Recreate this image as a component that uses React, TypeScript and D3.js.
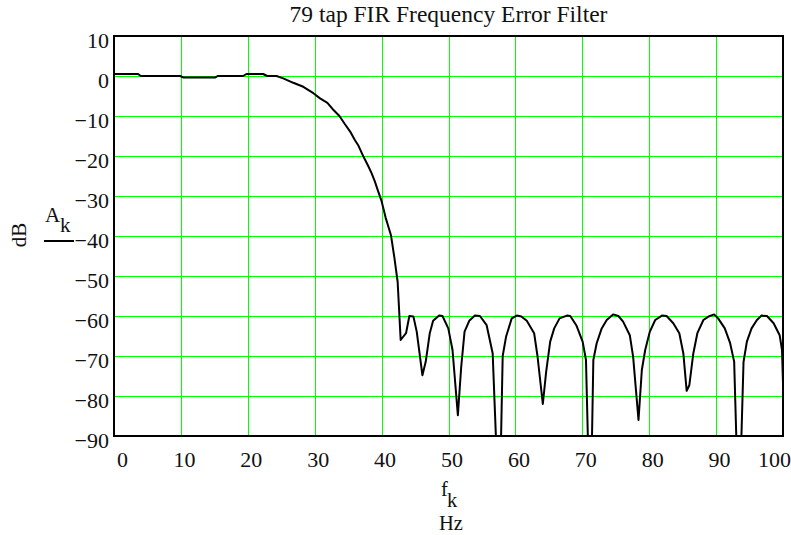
import React from "react";
import * as d3 from "d3";

// Frequency (Hz) of each plotted vertex
const freqHz = [
  0, 3.6, 4.0, 9.9, 10.4, 15.1, 15.5, 19.3, 19.8, 22.3, 22.9, 24.3, 25.3, 26.8, 28.3, 29.8,
  30.8, 31.9, 32.7, 33.7, 34.5, 35.3, 36.0, 36.5, 37.3, 38.0, 38.5, 39.0, 39.5, 40.0, 40.6,
  41.4, 41.9, 42.4, 42.85, 43.65, 44.15, 44.75, 45.25, 46.1, 46.6, 47.2, 47.7, 48.6, 49.1,
  49.97, 50.6, 51.4, 51.9, 52.4, 53.1, 53.95, 54.7, 55.7, 56.6, 57.2, 57.8, 58.1, 58.6,
  59.45, 60.2, 60.9, 61.7, 62.8, 63.3, 64.1, 64.6, 65.2, 65.8, 66.6, 67.7, 68.2, 69.1,
  70.05, 70.55, 70.9, 71.4, 71.65, 72.15, 72.9, 73.65, 74.6, 75.4, 76.1, 77.1, 77.6, 78.4,
  78.9, 79.4, 80.1, 80.9, 81.9, 82.6, 83.6, 84.5, 85.1, 85.6, 86.0, 86.6, 87.2, 88.1, 88.8,
  89.7, 90.3, 91.3, 92.1, 92.7, 93.1, 93.7, 94.1, 94.6, 95.3, 96.1, 96.8, 97.6, 98.6, 99.5,
  99.85, 100.0,
];

// Magnitude A_k (dB) at each vertex
const gainDb = [
  0.5, 0.5, 0.0, 0.0, -0.4, -0.4, 0.0, 0.0, 0.5, 0.5, 0.0, 0.0, -0.6, -1.7, -2.7, -4.3,
  -5.6, -6.7, -8.3, -10.0, -12.0, -13.9, -16.0, -17.3, -20.2, -22.5, -24.3, -26.4, -28.9, -31.3, -35.4,
  -39.8, -45.3, -51.5, -66.0, -64.3, -60.0, -60.1, -63.9, -74.8, -71.4, -64.3, -61.2, -59.9, -60.0,
  -63.1, -68.5, -84.8, -72.7, -63.9, -61.2, -59.9, -60.0, -62.3, -69.3, -95, -95, -70.0, -65.2,
  -60.6, -59.9, -60.1, -61.2, -64.3, -70.0, -82.0, -73.9, -66.4, -63.1, -60.6, -59.9, -60.0, -62.3,
  -66.4, -71.0, -95, -95, -71.0, -66.8, -63.1, -61.0, -59.6, -60.0, -61.4, -64.8, -70.2, -86.0,
  -73.5, -68.5, -63.9, -61.0, -59.9, -60.0, -61.8, -64.3, -69.3, -78.7, -77.3, -69.3, -64.3, -61.0, -60.2,
  -59.6, -60.6, -63.1, -66.8, -71.4, -95, -95, -71.5, -66.4, -63.1, -61.0, -59.9, -60.0, -61.8, -64.8,
  -68.5, -76.8,
];

const xTicks = [0, 10, 20, 30, 40, 50, 60, 70, 80, 90, 100];
const yTicks = [10, 0, -10, -20, -30, -40, -50, -60, -70, -80, -90];
const titleText = "79 tap FIR Frequency Error Filter";

const W = 791;
const H = 535;
const L = 114;
const R = 783;
const T = 36;
const B = 436;
const FONT = "'Liberation Serif', 'Times New Roman', serif";
const GRID = "#00ff00";

export default function App() {
  const x = d3.scaleLinear().domain([0, 100]).range([L, R]);
  const y = d3.scaleLinear().domain([-90, 10]).range([B, T]);
  const pts: [number, number][] = freqHz.map((f, i) => [f, gainDb[i]]);
  const line = d3
    .line<[number, number]>()
    .x((d) => x(d[0]))
    .y((d) => y(d[1]));

  const fmt = (v: number) => (v < 0 ? "\u2212" + Math.abs(v) : String(v));

  return (
    <svg
      width={W}
      height={H}
      style={{ position: "absolute", left: 0, top: 0, background: "#fff" }}
      fontFamily={FONT}
    >
      <defs>
        <clipPath id="plotClip">
          <rect x={L} y={T} width={R - L} height={B - T} />
        </clipPath>
      </defs>
      <text x={(L + R) / 2} y={22} textAnchor="middle" fontSize={23.5} fill="#111">
        {titleText}
      </text>
      {/* grid */}
      {xTicks
        .filter((t) => t > 0 && t < 100)
        .map((t) => (
          <line key={"gx" + t} x1={Math.round(x(t)) + 0.5} x2={Math.round(x(t)) + 0.5} y1={T} y2={B} stroke={GRID} strokeWidth={1} />
        ))}
      {yTicks
        .filter((t) => t < 10 && t > -90)
        .map((t) => (
          <line key={"gy" + t} x1={L} x2={R} y1={Math.round(y(t)) + 0.5} y2={Math.round(y(t)) + 0.5} stroke={GRID} strokeWidth={1} />
        ))}
      {/* curve */}
      <g clipPath="url(#plotClip)">
        <path d={line(pts) || ""} fill="none" stroke="#000" strokeWidth={2} strokeLinejoin="round" />
      </g>
      {/* frame */}
      <rect x={L} y={T} width={R - L} height={B - T} fill="none" stroke="#000" strokeWidth={2} />
      {/* y tick labels */}
      {yTicks.map((t) => (
        <text key={"yl" + t} x={L - 5} y={y(t) + 11.5} textAnchor="end" fontSize={22} fill="#111">
          {fmt(t)}
        </text>
      ))}
      {/* x tick labels */}
      {xTicks.map((t) => {
        const anchor = t === 0 ? "start" : t === 100 ? "end" : "middle";
        const px = t === 0 ? x(t) + 3 : t === 100 ? W : x(t) + 3.5;
        return (
          <text key={"xl" + t} x={px} y={467} textAnchor={anchor} fontSize={22} fill="#111">
            {fmt(t)}
          </text>
        );
      })}
      {/* y axis label */}
      <text transform="translate(26,235) rotate(-90)" textAnchor="middle" fontSize={21} fill="#111">
        dB
      </text>
      <text x={45} y={222} fontSize={21} fill="#111">A</text>
      <text x={60} y={232} fontSize={21} fill="#111">k</text>
      <line x1={44} x2={74} y1={241} y2={241} stroke="#000" strokeWidth={2} />
      {/* x axis label */}
      <text x={441} y={496} fontSize={20.5} fill="#111">f</text>
      <text x={447} y={507} fontSize={20.5} fill="#111">k</text>
      <text x={439} y={530} fontSize={20.5} fill="#111">Hz</text>
    </svg>
  );
}
